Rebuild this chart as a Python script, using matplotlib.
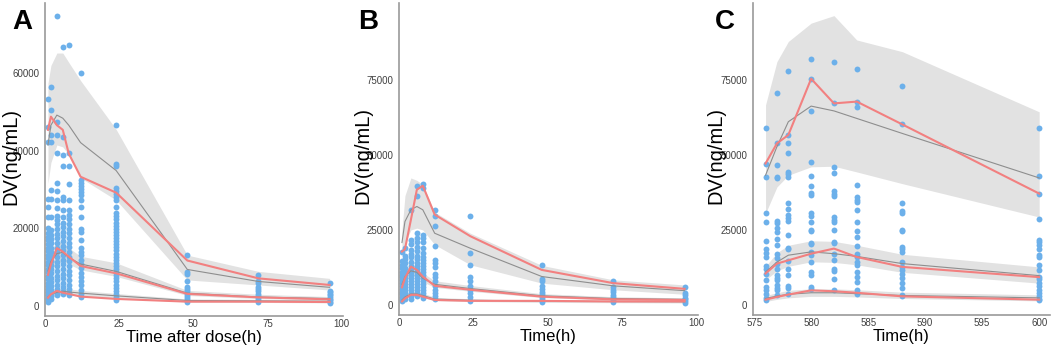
import matplotlib
matplotlib.use("Agg")
import matplotlib.pyplot as plt

plt.rcParams['font.family'] = ['Liberation Sans', 'DejaVu Sans']

# ---------------- Panel A ----------------
A_OBS_T = [1, 2, 4, 6, 8, 12, 24, 48, 72, 96]
A_OBS = [
    [53400, 46200, 42300, 27500, 25600, 23000, 20000, 18800, 17800, 16900, 15900, 15000, 14100, 13200, 12300,
     11400, 10500, 9600, 8700, 7800, 6900, 6000, 5100, 4300, 3500, 2700, 2000, 1400, 1000],
    [56400, 50500, 44000, 42300, 29900, 27600, 23000, 19500, 18300, 17200, 16100, 15000, 13900, 12800, 11700,
     10600, 9500, 8400, 7300, 6200, 5200, 4200, 3300, 2500, 1800],
    [74800, 47500, 44000, 39500, 31600, 29500, 27300, 25200, 23300, 22200, 21000, 19800, 18600, 17400, 16200,
     15000, 13800, 12600, 11400, 10200, 9000, 7800, 6600, 5400, 4400, 3400, 2700],
    [66700, 43600, 38900, 36000, 28200, 27400, 24700, 23000, 21500, 20300, 19100, 17900, 16700, 15500, 14300,
     13100, 11900, 10700, 9500, 8300, 7100, 5900, 4800, 3800, 3100],
    [67300, 39300, 36100, 31400, 27300, 24700, 23500, 22300, 21100, 19900, 18700, 17500, 16300, 15100, 13900,
     12700, 11500, 10300, 9100, 7900, 6700, 5500, 4400, 3400, 2700],
    [60000, 32500, 31700, 30900, 30100, 29300, 28500, 27300, 25500, 23000, 19800, 19000, 17000, 15000, 14000,
     13000, 11800, 10800, 9700, 8600, 7500, 6400, 5300, 4200, 3200, 2400],
    [46600, 36600, 36000, 30300, 29500, 28800, 28000, 27300, 25600, 23900, 23100, 22300, 21500, 20700, 19900,
     19100, 18300, 17500, 16700, 15900, 15100, 14300, 13500, 12700, 11900, 11100, 10300, 9500, 8700, 7900,
     7100, 6300, 5500, 4700, 3900, 3100, 2300, 1500],
    [13000, 8700, 8100, 6300, 5000, 4400, 3800, 3200, 2600, 2000, 1500, 1100],
    [8000, 6500, 5800, 5000, 4400, 3800, 3200, 2600, 2000, 1500, 1100],
    [6000, 3900, 3500, 3100, 2700, 2300, 1900, 1500, 1100, 800],
]
A_TIME = [1, 2, 4, 6, 8, 12, 24, 48, 72, 96]
A_HI_OBS = [45400, 48800, 46600, 45400, 39300, 33300, 29200, 11700, 7100, 5400]
A_HI_SIM = [41500, 46600, 49200, 48400, 46600, 42100, 34900, 9400, 6300, 4800]
A_HI_LO = [31600, 37000, 41500, 41000, 39000, 33000, 27300, 6700, 5400, 4100]
A_HI_UP = [57400, 62000, 65200, 65200, 62800, 58100, 45500, 13100, 8900, 7100]
A_MID_OBS = [8000, 10700, 14900, 14000, 12700, 10300, 8400, 3100, 2200, 1700]
A_MID_SIM = [9000, 11500, 13500, 13800, 12500, 10800, 8900, 3300, 2300, 1900]
A_MID_LO = [6500, 9000, 11000, 11500, 10800, 9300, 7600, 2700, 1900, 1500]
A_MID_UP = [11500, 14500, 16500, 16500, 15000, 12800, 11100, 4000, 3000, 2400]
A_LO_OBS = [2100, 3000, 3900, 3400, 3100, 2400, 1800, 1100, 1100, 1000]
A_LO_SIM = [2300, 3000, 3500, 3800, 3600, 3300, 2600, 1400, 1300, 1200]
A_LO_LO = [1600, 2300, 2800, 3000, 2900, 2600, 2000, 1000, 900, 800]
A_LO_UP = [3000, 3800, 4300, 4600, 4400, 4000, 3200, 1800, 1700, 1600]

# ---------------- Panel B ----------------
B_OBS_T = [1, 2, 4, 6, 8, 12, 24, 48, 72, 96]
B_OBS = [
    [17700, 14600, 13500, 12400, 11200, 10200, 9300, 8500, 7500, 6300, 5500, 4600, 3800, 2900, 2100, 1300],
    [19000, 16500, 15500, 14000, 12500, 11000, 10000, 9000, 8000, 7000, 6000, 5000, 4000, 3000, 2000],
    [31800, 21800, 20500, 18500, 17000, 16000, 14500, 13000, 12000, 11000, 10000, 9000, 8000, 7000, 6000,
     5000, 4000, 3000, 2000],
    [39600, 36500, 24000, 22500, 21000, 19500, 18000, 16500, 15500, 14000, 13000, 12000, 11000, 10000, 9000,
     8000, 7000, 6000, 5000, 4000, 3000],
    [40500, 39000, 23500, 22500, 21000, 19000, 17500, 16000, 15000, 14000, 13000, 12000, 11000, 10000, 9000,
     8000, 7000, 6000, 5000, 4000, 3000, 2500],
    [31800, 29800, 26300, 19600, 15200, 14000, 12800, 10500, 9500, 8000, 6500, 5000, 4000, 3000, 2000],
    [29800, 17400, 13500, 9600, 8000, 6300, 5200, 4100, 2700, 1300],
    [13300, 8800, 8100, 6500, 5400, 4600, 3700, 2900, 2100, 1200],
    [8200, 6100, 5200, 4300, 3500, 2700, 1800, 1100],
    [6100, 4100, 3300, 2600, 2100, 1500, 950],
]
B_TIME = [1, 2, 4, 6, 8, 12, 24, 48, 72, 96]
B_HI_OBS = [17900, 18700, 28500, 38500, 39800, 30200, 23000, 11800, 7400, 5500]
B_HI_SIM = [20900, 27900, 31800, 32900, 31800, 24000, 19000, 9600, 6500, 4900]
B_HI_LO = [17000, 20700, 25100, 25700, 25100, 20200, 13500, 7400, 5200, 3700]
B_HI_UP = [25000, 36500, 42400, 41600, 40200, 31000, 24000, 13300, 8500, 6800]
B_MID_OBS = [6000, 9000, 12900, 11800, 9600, 6500, 5200, 2900, 2000, 1800]
B_MID_SIM = [7000, 9500, 11500, 11000, 9000, 7000, 5600, 3200, 2300, 2000]
B_MID_LO = [5500, 7800, 9800, 9500, 7800, 6000, 4700, 2600, 1800, 1500]
B_MID_UP = [8500, 11500, 13500, 13000, 10800, 8200, 6600, 3900, 2900, 2500]
B_LO_OBS = [1300, 2300, 3500, 3500, 2900, 1800, 1500, 1500, 1300, 1300]
B_LO_SIM = [1800, 2800, 3800, 3800, 3300, 2100, 1700, 1400, 1300, 1200]
B_LO_LO = [1200, 2100, 2900, 3000, 2600, 1600, 1300, 1000, 900, 800]
B_LO_UP = [2400, 3500, 4700, 4700, 4100, 2700, 2200, 1800, 1700, 1600]

# ---------------- Panel C ----------------
C_OBS_T = [576, 577, 578, 580, 582, 584, 588, 600]
C_OBS = [
    [59000, 47200, 42800, 30600, 27800, 21400, 18900, 17400, 16100, 13100, 12200, 10600, 8600, 6100, 5000,
     3900, 2600, 1900],
    [70700, 53900, 46600, 42800, 42400, 28100, 27400, 25600, 24400, 22200, 20000, 17200, 15600, 13900, 12200,
     10000, 9100, 8300, 6700, 5900, 5000, 3300],
    [78000, 56700, 53900, 50600, 44300, 43800, 42800, 33900, 31900, 30000, 29100, 28000, 23300, 19200, 18600,
     14800, 12200, 10000, 6300, 5800, 3900],
    [81900, 75400, 64700, 47800, 43100, 39800, 37300, 36700, 30600, 29700, 27800, 25200, 24900, 20800, 20300,
     17800, 16700, 14400, 11100, 10000, 6100, 5600],
    [80900, 67200, 46100, 44100, 38000, 36900, 36300, 29400, 28300, 27700, 25000, 21100, 20600, 17200, 15000,
     12200, 11400, 8900, 5000],
    [78500, 67800, 66100, 40000, 36100, 35000, 34400, 31700, 27800, 24800, 22700, 19700, 17200, 16100, 14400,
     13300, 11100, 9400, 7800, 5000, 3900],
    [73000, 60200, 34100, 31400, 30600, 25200, 24700, 19400, 18600, 17600, 14400, 12800, 11700, 10600, 9100,
     7400, 5900, 3600, 3000],
    [59100, 43000, 37200, 28900, 21700, 21100, 20200, 18900, 16700, 16100, 13300, 11900, 9400, 8800, 7400,
     6300, 5200, 4100, 3000, 2200, 1900],
]
C_TIME = [576, 577, 578, 580, 582, 584, 588, 600]
C_HI_OBS = [47200, 53900, 56700, 75400, 67200, 67800, 60200, 37200]
C_HI_SIM = [43300, 52800, 61100, 66300, 64700, 62200, 57200, 42400]
C_HI_LO = [30600, 39400, 43300, 46100, 46300, 44400, 40500, 29400]
C_HI_UP = [66700, 81100, 87800, 93900, 96400, 88300, 84400, 64400]
C_MID_OBS = [10600, 13900, 15000, 17200, 18900, 16100, 12800, 9400]
C_MID_SIM = [11100, 14400, 16700, 17800, 17200, 16300, 13900, 9900]
C_MID_LO = [8500, 11500, 13000, 14500, 14300, 13500, 11000, 7400]
C_MID_UP = [13000, 17500, 20000, 21500, 21300, 20000, 17000, 12800]
C_LO_OBS = [1900, 2800, 3600, 5000, 4700, 4200, 3000, 1900]
C_LO_SIM = [2300, 3100, 3700, 4200, 4200, 3900, 3300, 2500]
C_LO_LO = [1300, 2000, 2500, 3000, 3000, 2800, 2300, 1500]
C_LO_UP = [3300, 4200, 5000, 5500, 5500, 5200, 4400, 3500]

PANEL_LABELS = ["A", "B", "C"]
X_LABELS = ["Time after dose(h)", "Time(h)", "Time(h)"]
Y_LABEL = "DV(ng/mL)"

BAND = "#E2E2E2"
RED = "#F28080"
GRAY = "#8E8E8E"
BLUE = "#6CB0EA"
AXIS = "#9A9A9A"
TICK = "#404040"

fig = plt.figure(figsize=(10.52, 3.45), dpi=100)
W, H = 1052, 345

def make_ax(l, r, t, b):
    return fig.add_axes([l / W, 1 - b / H, (r - l) / W, (b - t) / H])

axA = make_ax(45, 343, 3, 316)
axB = make_ax(399, 698, 3, 315)
axC = make_ax(753, 1050, 3, 315)

panels = [
    (axA, A_OBS_T, A_OBS, A_TIME,
     [(A_HI_LO, A_HI_UP, A_HI_SIM, A_HI_OBS), (A_MID_LO, A_MID_UP, A_MID_SIM, A_MID_OBS),
      (A_LO_LO, A_LO_UP, A_LO_SIM, A_LO_OBS)]),
    (axB, B_OBS_T, B_OBS, B_TIME,
     [(B_HI_LO, B_HI_UP, B_HI_SIM, B_HI_OBS), (B_MID_LO, B_MID_UP, B_MID_SIM, B_MID_OBS),
      (B_LO_LO, B_LO_UP, B_LO_SIM, B_LO_OBS)]),
    (axC, C_OBS_T, C_OBS, C_TIME,
     [(C_HI_LO, C_HI_UP, C_HI_SIM, C_HI_OBS), (C_MID_LO, C_MID_UP, C_MID_SIM, C_MID_OBS),
      (C_LO_LO, C_LO_UP, C_LO_SIM, C_LO_OBS)]),
]

for ax, obs_t, obs, tgrid, groups in panels:
    for lo, up, sim, ob in groups:
        ax.fill_between(tgrid, lo, up, color=BAND, lw=0, zorder=1)
    for t, vals in zip(obs_t, obs):
        ax.scatter([t] * len(vals), vals, s=18, color=BLUE, lw=0, zorder=2)
    for lo, up, sim, ob in groups:
        ax.plot(tgrid, sim, color=GRAY, lw=0.8, zorder=3)
        ax.plot(tgrid, ob, color=RED, lw=1.5, zorder=4)

axA.set_xlim(0, 100.5)
axA.set_ylim(-2600, 78100)
axA.set_xticks([0, 25, 50, 75, 100])
axA.set_yticks([0, 20000, 40000, 60000])
axB.set_xlim(0, 100.5)
axB.set_ylim(-3200, 100600)
axB.set_xticks([0, 25, 50, 75, 100])
axB.set_yticks([0, 25000, 50000, 75000])
axC.set_xlim(574.9, 600.95)
axC.set_ylim(-3200, 100600)
axC.set_xticks([575, 580, 585, 590, 595, 600])
axC.set_yticks([0, 25000, 50000, 75000])

label_x = [-0.082, -0.088, -0.092]
for i, ax in enumerate([axA, axB, axC]):
    for s in ["top", "right"]:
        ax.spines[s].set_visible(False)
    for s in ["left", "bottom"]:
        ax.spines[s].set_color(AXIS)
        ax.spines[s].set_linewidth(1.2)
    ax.tick_params(axis="x", length=0, labelsize=7, labelcolor=TICK, pad=2)
    ax.tick_params(axis="y", length=0, labelsize=7, labelcolor=TICK, pad=4)
    ax.set_facecolor("none")
    ax.set_xlabel(X_LABELS[i], fontsize=12)
    ax.xaxis.set_label_coords(0.5, -0.045)
    ax.set_ylabel(Y_LABEL, fontsize=14.5)
    ax.yaxis.set_label_coords(label_x[i], 0.51)

for lab, x in zip(PANEL_LABELS, [12, 358, 715]):
    fig.text(x / W, 1 - 29 / H, lab, fontsize=20, fontweight="bold", va="baseline", ha="left")

fig.savefig("out.png", dpi=100)
